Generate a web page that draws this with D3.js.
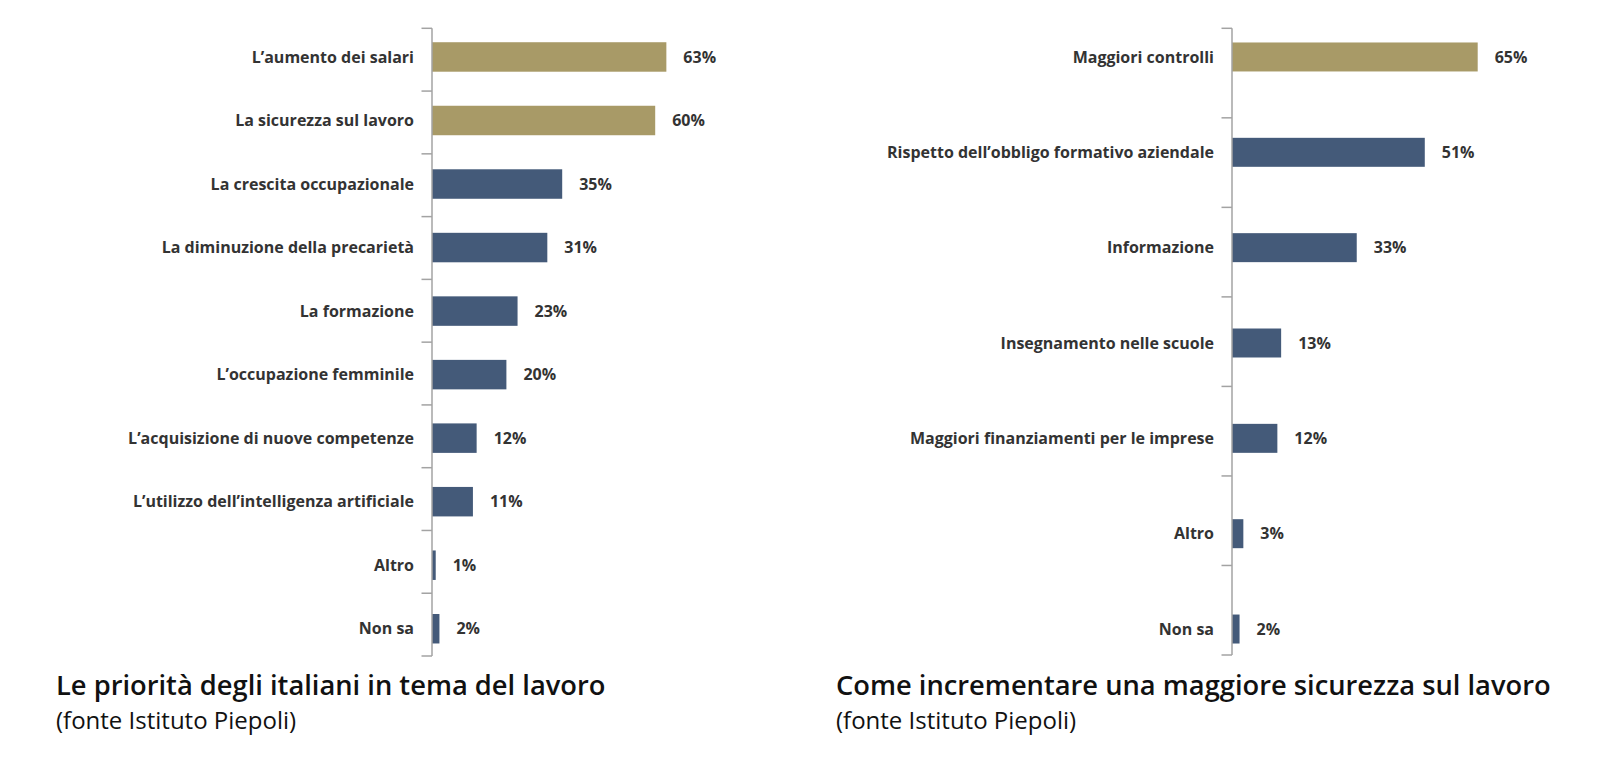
<!DOCTYPE html>
<html>
<head>
<meta charset="utf-8">
<script src="https://cdn.jsdelivr.net/npm/d3@7"></script>
<style>
  html, body { margin: 0; padding: 0; background: #fff; }
  svg { display: block; }
</style>
</head>
<body>
<div id="main"></div>
<script>
// Dati
const leftCats = ["L’aumento dei salari", "La sicurezza sul lavoro", "La crescita occupazionale",
  "La diminuzione della precarietà", "La formazione", "L’occupazione femminile",
  "L’acquisizione di nuove competenze", "L’utilizzo dell’intelligenza artificiale", "Altro", "Non sa"];
const leftValues = [63, 60, 35, 31, 23, 20, 12, 11, 1, 2];
const leftHighlight = ["L’aumento dei salari", "La sicurezza sul lavoro"];
const leftTitle = "Le priorità degli italiani in tema del lavoro";

const rightCats = ["Maggiori controlli", "Rispetto dell’obbligo formativo aziendale", "Informazione",
  "Insegnamento nelle scuole", "Maggiori finanziamenti per le imprese", "Altro", "Non sa"];
const rightValues = [65, 51, 33, 13, 12, 3, 2];
const rightHighlight = ["Maggiori controlli"];
const rightTitle = "Come incrementare una maggiore sicurezza sul lavoro";

const source = "(fonte Istituto Piepoli)";

const width = 1600, height = 769;
const gold = "#a89a67", blue = "#445a79", textCol = "#333", axisCol = "#a3a3a3";

const svg = d3.select("#main").append("svg")
  .attr("width", width)
  .attr("height", height)
  .attr("font-family", "'Open Sans', sans-serif");

// un pannello = asse + barre + etichette
function panel(opt) {
  const data = opt.cats.map((c, i) => ({cat: c, value: opt.values[i]}));
  const g = svg.append("g").attr("transform", `translate(${opt.axisX},0)`);

  const x = d3.scaleLinear().domain([0, 100]).range([0, opt.pxPer100]);
  const y = d3.scaleBand().domain(opt.cats).range(opt.barRange)
    .paddingInner(opt.pad).paddingOuter(opt.pad / 2);
  const yt = d3.scaleBand().domain(opt.cats).range(opt.tickRange);

  g.append("g").selectAll("rect")
    .data(data)
    .join("rect")
      .attr("x", 0)
      .attr("y", d => y(d.cat))
      .attr("width", d => x(d.value))
      .attr("height", y.bandwidth())
      .attr("fill", d => opt.highlight.includes(d.cat) ? gold : blue);

  // asse verticale con tacche tra le categorie
  const ticks = opt.cats.map(c => yt(c)).concat([opt.tickRange[1]]);
  g.append("line")
    .attr("x1", 0).attr("x2", 0)
    .attr("y1", opt.tickRange[0]).attr("y2", opt.tickRange[1])
    .attr("stroke", axisCol).attr("stroke-width", 1.5);
  g.append("g").selectAll("line")
    .data(ticks)
    .join("line")
      .attr("x1", -10.5).attr("x2", 0)
      .attr("y1", d => d).attr("y2", d => d)
      .attr("stroke", axisCol).attr("stroke-width", 1.5);

  g.append("g")
      .attr("font-size", 16)
      .attr("font-weight", 700)
      .attr("fill", textCol)
    .selectAll("text")
    .data(data)
    .join("text")
      .attr("x", -18)
      .attr("y", d => y(d.cat) + y.bandwidth() / 2)
      .attr("dy", "0.35em")
      .attr("text-anchor", "end")
      .text(d => d.cat);

  g.append("g")
      .attr("font-size", 16)
      .attr("font-weight", 700)
      .attr("fill", textCol)
    .selectAll("text")
    .data(data)
    .join("text")
      .attr("x", d => x(d.value) + 17)
      .attr("y", d => y(d.cat) + y.bandwidth() / 2)
      .attr("dy", "0.35em")
      .text(d => d.value + "%");

  svg.append("text")
    .attr("x", opt.titleX).attr("y", 695)
    .attr("font-size", 27.3)
    .attr("font-weight", 600)
    .attr("fill", "#111")
    .text(opt.title);
  svg.append("text")
    .attr("x", opt.titleX).attr("y", 729)
    .attr("font-size", 24)
    .attr("fill", "#111")
    .text(source);
}

panel({cats: leftCats, values: leftValues, highlight: leftHighlight, title: leftTitle,
  axisX: 432, pxPer100: 372, barRange: [25.2, 660.5], pad: 0.536, tickRange: [28.3, 656], titleX: 56});
panel({cats: rightCats, values: rightValues, highlight: rightHighlight, title: rightTitle,
  axisX: 1232, pxPer100: 378, barRange: [9.3, 676.7], pad: 0.696, tickRange: [28.3, 655], titleX: 836});
</script>
</body>
</html>
